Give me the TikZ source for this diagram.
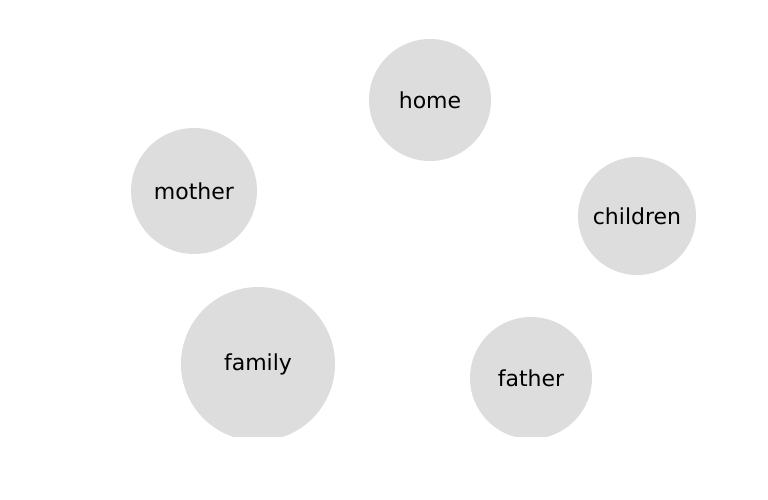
\documentclass[tikz,border=0pt]{standalone}
\usepackage{fontspec}
\setmainfont{DejaVu Sans}
\definecolor{bubblegray}{HTML}{DDDDDD}
\tikzset{
  bubble/.style={circle, fill=bubblegray, inner sep=0pt, font=\fontsize{16.5pt}{18pt}\selectfont}
}
\begin{document}
\begin{tikzpicture}[x=0.75pt, y=-0.75pt]
        % Rahmen
        \useasboundingbox (0,0) rectangle (768,500);
        \begin{scope}
        \clip (0,0) rectangle (768,436);
        % Blasen
        \node[bubble, minimum size=91.5pt] (home) at (430,100) {home};
        \node[bubble, minimum size=94.5pt] (mother) at (194,191) {mother};
        \node[bubble, minimum size=88.5pt] (children) at (637,216) {children};
        \node[bubble, minimum size=115.5pt] (family) at (258,364) {family};
        \node[bubble, minimum size=91.5pt] (father) at (531,378) {father};
        \end{scope}
\end{tikzpicture}
\end{document}
